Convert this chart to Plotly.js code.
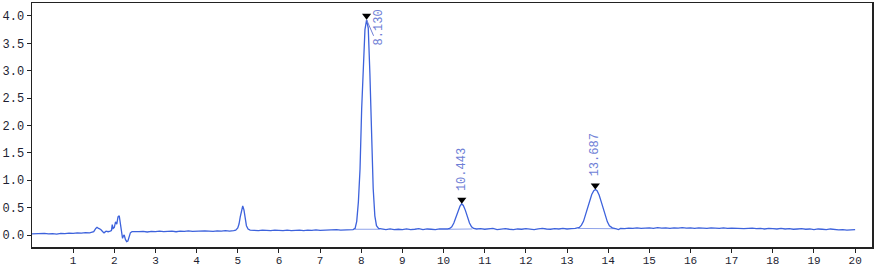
<!DOCTYPE html>
<html>
<head>
<meta charset="utf-8">
<script src="https://cdn.plot.ly/plotly-3.0.1.min.js"></script>
<style>html,body{margin:0;padding:0;background:#fff}#chart{width:881px;height:269px}</style>
</head>
<body>
<div id="chart"></div>
<script>
// Retention time (min)
const timeMin = [
  0.0,0.1,0.2,0.3,0.4,0.5,0.6,0.7,0.8,0.9,1.0,1.1,1.2,1.3,1.4,1.5,
  1.55,1.58,1.62,1.67,1.72,1.75,1.8,1.85,1.9,1.93,1.95,1.97,2.0,2.03,2.06,2.09,2.12,2.15,2.18,2.2,2.22,2.24,2.27,2.3,2.33,2.36,2.39,2.43,2.5,
  2.6,2.7,2.8,2.9,3.0,3.1,3.2,3.3,3.4,3.5,3.6,3.7,3.8,3.9,4.0,4.1,4.2,4.3,4.4,4.5,4.6,4.7,4.8,4.9,4.95,
  5.0,5.03,5.06,5.09,5.12,5.15,5.18,5.21,5.25,5.3,5.4,5.5,5.6,5.7,5.8,5.9,6.0,6.1,6.2,6.3,6.4,6.5,6.6,6.7,6.8,6.9,7.0,7.1,7.2,7.3,7.4,7.5,7.6,7.7,7.8,
  7.85,7.89,7.93,7.97,8.01,8.05,8.09,8.13,8.17,8.21,8.25,8.29,8.33,8.37,8.42,8.5,
  8.6,8.7,8.8,8.9,9.0,9.1,9.2,9.3,9.4,9.5,9.6,9.7,9.8,9.9,10.0,10.1,
  10.15,10.2,10.25,10.3,10.35,10.4,10.44,10.48,10.53,10.58,10.63,10.68,10.73,10.8,
  10.9,11.0,11.1,11.2,11.3,11.4,11.5,11.6,11.7,11.8,11.9,12.0,12.1,12.2,12.3,12.4,12.5,12.6,12.7,12.8,12.9,13.0,13.1,13.2,
  13.3,13.35,13.4,13.45,13.5,13.55,13.6,13.65,13.69,13.73,13.78,13.83,13.88,13.93,13.98,14.03,14.1,14.2,
  14.25,14.3,14.4,14.5,14.6,14.7,14.8,14.9,15.0,15.1,15.2,15.3,15.4,15.5,15.6,15.7,15.8,15.9,16.0,16.1,16.2,16.3,16.4,16.5,16.6,16.7,16.8,16.9,17.0,
  17.1,17.2,17.3,17.4,17.5,17.6,17.7,17.8,17.9,18.0,18.1,18.2,18.3,18.4,18.5,18.6,18.7,18.8,18.9,19.0,19.1,19.2,19.3,19.4,19.5,19.6,19.7,19.8,19.9,20.0
];
// Detector signal
const signal = [
  0.02,0.025,0.02,0.03,0.02,0.025,0.015,0.03,0.025,0.035,0.03,0.04,0.035,0.045,0.04,0.06,
  0.12,0.14,0.12,0.10,0.06,0.04,0.07,0.06,0.07,0.08,0.19,0.12,0.14,0.24,0.20,0.33,0.35,0.22,0.05,-0.06,-0.02,0.0,-0.08,-0.12,-0.11,-0.03,0.04,0.06,0.065,
  0.06,0.065,0.055,0.065,0.06,0.07,0.06,0.065,0.07,0.06,0.07,0.065,0.075,0.065,0.07,0.065,0.075,0.07,0.065,0.075,0.07,0.08,0.07,0.08,0.09,
  0.13,0.20,0.33,0.47,0.53,0.46,0.30,0.17,0.11,0.09,0.085,0.08,0.09,0.085,0.08,0.09,0.085,0.08,0.09,0.08,0.085,0.09,0.08,0.09,0.085,0.095,0.085,0.09,0.095,0.09,0.10,0.09,0.095,0.10,0.10,
  0.12,0.25,0.60,1.20,2.30,3.20,3.75,3.93,3.78,2.95,1.90,0.85,0.35,0.17,0.12,0.105,
  0.10,0.11,0.10,0.105,0.10,0.11,0.10,0.105,0.115,0.10,0.11,0.105,0.10,0.11,0.105,0.11,
  0.12,0.15,0.22,0.32,0.43,0.53,0.57,0.54,0.45,0.33,0.22,0.15,0.12,0.11,
  0.115,0.105,0.11,0.12,0.10,0.11,0.115,0.105,0.10,0.11,0.105,0.115,0.11,0.10,0.11,0.12,0.11,0.105,0.115,0.11,0.12,0.11,0.115,0.12,
  0.14,0.18,0.25,0.37,0.50,0.63,0.74,0.81,0.83,0.81,0.73,0.61,0.48,0.35,0.24,0.17,0.13,0.11,
  0.10,0.12,0.115,0.125,0.12,0.13,0.12,0.125,0.13,0.12,0.135,0.125,0.13,0.12,0.13,0.125,0.135,0.125,0.13,0.12,0.13,0.125,0.12,0.13,0.125,0.12,0.13,0.12,0.125,
  0.12,0.125,0.115,0.12,0.125,0.115,0.12,0.11,0.12,0.115,0.11,0.12,0.11,0.115,0.105,0.11,0.115,0.105,0.11,0.10,0.11,0.105,0.10,0.11,0.10,0.095,0.10,0.09,0.095,0.10
];
// Integrated peaks
const peakLabels = ["8.130","10.443","13.687"];
const peakTimes = [8.13, 10.443, 13.687];
const peakHeights = [3.93, 0.57, 0.83];
// Integration baselines (start/end times and levels)
const baseStart = [7.85, 10.12, 13.27];
const baseEnd = [8.45, 10.70, 14.17];
const baseStartLevel = [0.105, 0.105, 0.12];
const baseEndLevel = [0.105, 0.11, 0.115];
const xTicks = [1,2,3,4,5,6,7,8,9,10,11,12,13,14,15,16,17,18,19,20];
const yTicks = [0,0.5,1,1.5,2,2.5,3,3.5,4];

const traces = [];
for (let i = 0; i < baseStart.length; i++) {
  traces.push({x:[baseStart[i], baseEnd[i]], y:[baseStartLevel[i], baseEndLevel[i]], mode:'lines',
    line:{color:'#8fa3ea', width:1}, hoverinfo:'skip', showlegend:false});
}
traces.push({x:timeMin, y:signal, mode:'lines', line:{color:'#3d62dc', width:1.3}, showlegend:false});
// triangle markers just above apex (offset ~4 px in data units)
const triOffset = 4/54.75;
traces.push({x:peakTimes, y:peakHeights.map(h => h + triOffset), mode:'markers',
  marker:{symbol:'triangle-down', size:8, color:'#000'}, showlegend:false});

const annFont = {family:'Liberation Mono, DejaVu Sans Mono, monospace', size:12, color:'#6f7fd6'};
const annotations = [];
const shapes = [];
peakLabels.forEach((lab, i) => {
  if (i === 0) {
    annotations.push({x:peakTimes[i], y:peakHeights[i], xref:'x', yref:'y', text:lab, textangle:-90,
      showarrow:false, xanchor:'left', yanchor:'top', xshift:3, yshift:12, font:annFont});
    shapes.push({type:'line', xref:'x', yref:'y', xsizemode:'pixel', ysizemode:'pixel',
      xanchor:peakTimes[i], yanchor:peakHeights[i], x0:0, x1:7, y0:0, y1:-16,
      line:{color:'#6f7fd6', width:1}});
  } else {
    annotations.push({x:peakTimes[i], y:peakHeights[i], xref:'x', yref:'y', text:lab, textangle:-90,
      showarrow:false, xanchor:'center', yanchor:'bottom', yshift:11, font:annFont});
  }
});

const tickFont = {family:'Liberation Mono, DejaVu Sans Mono, monospace', size:12, color:'#1e1e32'};
const xTickFont = {family:'Liberation Mono, DejaVu Sans Mono, monospace', size:11, color:'#1e1e32'};
const layout = {
  width:881, height:269,
  margin:{l:32, r:9, t:3, b:22},
  paper_bgcolor:'#fff', plot_bgcolor:'#fff',
  xaxis:{range:[0,20.41], tickvals:xTicks, ticktext:xTicks.map(String), ticks:'outside', ticklen:4,
    tickcolor:'#222', showline:true, linecolor:'#222', linewidth:1.5, mirror:true, showgrid:false,
    zeroline:false, tickfont:xTickFont, ticklabelstandoff:-2},
  yaxis:{range:[-0.219,4.237], tickvals:yTicks, ticktext:yTicks.map(v => v.toFixed(1)), ticks:'outside', ticklen:4,
    tickcolor:'#222', showline:true, linecolor:'#222', linewidth:1.5, mirror:true, showgrid:false,
    zeroline:false, tickfont:tickFont},
  annotations:annotations, shapes:shapes, showlegend:false
};
Plotly.newPlot('chart', traces, layout, {displayModeBar:false, staticPlot:true});
</script>
</body>
</html>
